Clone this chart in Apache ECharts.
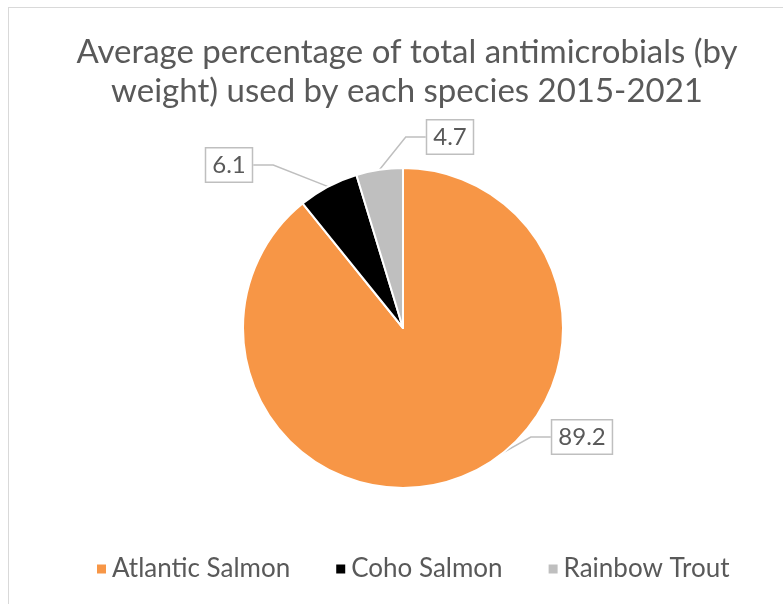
<!DOCTYPE html>
<html><head><meta charset="utf-8">
<script src="https://cdn.jsdelivr.net/npm/echarts@6/dist/echarts.min.js"></script>
<style>
html,body{margin:0;padding:0;background:#fff;}
#frame{position:absolute;left:8px;top:7px;width:800px;height:620px;border-top:1.5px solid #d9d9d9;border-left:1.5px solid #d9d9d9;}
#c{position:absolute;left:0;top:0;width:783px;height:604px;}
</style></head>
<body>
<div id="frame"></div>
<div id="c"></div>
<script>
var titleText = 'Average percentage of total antimicrobials (by\nweight) used by each species 2015-2021';
var categories = ['Atlantic Salmon', 'Coho Salmon', 'Rainbow Trout'];
var values = [89.2, 6.1, 4.7];
var colors = ['#F79646', '#000000', '#BFBFBF'];
var labelSpots = [[582, 437], [229, 165], [450, 137]];

var chart = echarts.init(document.getElementById('c'), null, {renderer: 'canvas'});
var font = 'Lato, "Open Sans", sans-serif';
chart.setOption({
  animation: false,
  title: {
    text: titleText, left: 402, top: 28, textAlign: 'center',
    textStyle: {fontFamily: font, fontSize: 33, fontWeight: 'normal', color: '#595959', lineHeight: 39}
  },
  legend: {
    bottom: 17, left: 90, itemWidth: 11, itemHeight: 11, itemGap: 44, icon: 'rect',
    textStyle: {fontFamily: font, fontSize: 26, color: '#595959'},
    data: categories
  },
  series: [{
    type: 'pie', center: [403, 328], radius: 160, startAngle: 90, clockwise: true,
    itemStyle: {borderColor: '#fff', borderWidth: 2},
    label: {
      show: true, position: 'outside', formatter: function(p){return p.value.toFixed(1);},
      fontFamily: font, fontSize: 24, color: '#595959', backgroundColor: '#fff',
      borderColor: '#BFBFBF', borderWidth: 1.5, padding: [5, 6, 4, 6]
    },
    labelLine: {show: true, length: 20, length2: 20, lineStyle: {color: '#BFBFBF', width: 1.5}},
    labelLayout: function(p){
      var s = labelSpots[p.dataIndex];
      return {x: s[0], y: s[1], align: 'center', verticalAlign: 'middle'};
    },
    data: categories.map(function(n, i){return {name: n, value: values[i], itemStyle: {color: colors[i]}};})
  }]
});
</script>
</body></html>
